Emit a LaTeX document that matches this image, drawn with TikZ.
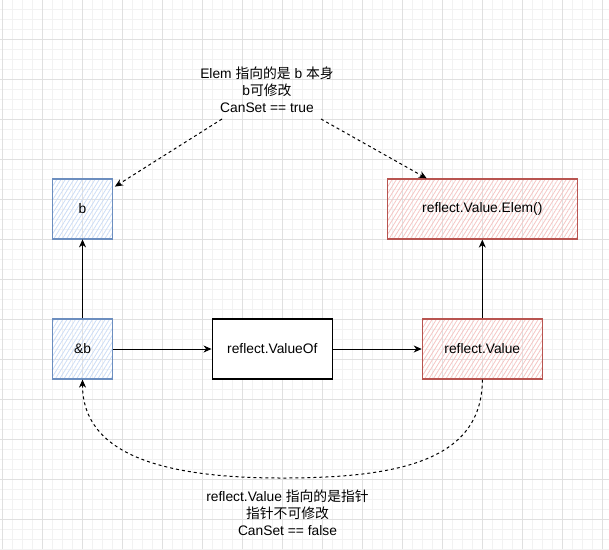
\documentclass[tikz,border=0pt]{standalone}
\usepackage{fontspec}
\setmainfont{Liberation Sans}
\newfontfamily\cjk{Noto Sans CJK SC}
\usetikzlibrary{arrows.meta,patterns.meta}
\definecolor{bluestroke}{HTML}{6C8EBF}
\definecolor{bluehatch}{HTML}{CCDDF6}
\definecolor{redstroke}{HTML}{B85450}
\definecolor{redhatch}{HTML}{F5C6C4}
\definecolor{gridminor}{HTML}{F2F2F2}
\definecolor{gridmajor}{HTML}{E0E0E0}
\tikzset{
  minorgrid/.style={gridminor, line width=0.8pt},
  majorgrid/.style={gridmajor, line width=1pt},
  bluebox/.style={draw=bluestroke, line width=1.2pt, pattern={Lines[angle=58,distance=3.6pt,line width=0.8pt]}, pattern color=bluehatch, minimum height=60, inner sep=0pt},
  redbox/.style={draw=redstroke, line width=1.2pt, pattern={Lines[angle=58,distance=3.6pt,line width=0.8pt]}, pattern color=redhatch, minimum height=60, inner sep=0pt},
  plainbox/.style={draw=black, fill=white, line width=1.5pt, minimum height=60, inner sep=0pt},
  arr/.style={draw=black, line width=1pt, -{Stealth[length=8pt,width=7pt,inset=2.5pt]}},
  darr/.style={arr, dash pattern=on 3pt off 3pt},
  lbl/.style={align=center, inner sep=0pt}
}
\begin{document}
\begin{tikzpicture}[x=1pt,y=-1pt, font=\fontsize{13.8}{17}\selectfont]
\useasboundingbox (0,0) rectangle (609,549);
% grid
\foreach \x in {2,12,...,602} \draw[minorgrid] (\x,0) -- (\x,549);
\foreach \y in {9,19,...,549} \draw[minorgrid] (0,\y) -- (609,\y);
\foreach \x in {2,42,...,602} \draw[majorgrid] (\x,0) -- (\x,549);
\foreach \y in {39,79,...,549} \draw[majorgrid] (0,\y) -- (609,\y);
% nodes
\node[bluebox, minimum width=60] (b) at (82.5,209) {b};
\node[redbox, minimum width=190] (elem) at (482.3,209) {reflect.Value.Elem()};
\node[bluebox, minimum width=60] (ab) at (82.5,349) {\&b};
\node[plainbox, minimum width=120] (vof) at (272.3,349) {reflect.ValueOf};
\node[redbox, minimum width=120] (val) at (482.3,349) {reflect.Value};
% labels
\node[lbl] (toplbl) at (267,90) {Elem {\cjk 指向的是} b {\cjk 本身}\\b{\cjk 可修改}\\CanSet == true};
\node[lbl] (botlbl) at (287.5,513) {reflect.Value {\cjk 指向的是指针}\\{\cjk 指针不可修改}\\CanSet == false};
\coordinate (tl) at (222,119);
\coordinate (tr) at (321,119);
\coordinate (bm) at (282,478);
% connectors
\draw[arr] (ab) -- (b);
\draw[arr] (val) -- (elem);
\draw[arr] (ab) -- (vof);
\draw[arr] (vof) -- (val);
\draw[darr] (tl) -- ([shift={(2,8)}]b.north east);
\draw[darr] (tr) -- ([xshift=40]elem.north west);
\draw[darr] (val.south) .. controls (482.3,460) and (400,478) .. (bm)
   .. controls (164,478) and (82.5,455) .. (ab.south);
\end{tikzpicture}
\end{document}
